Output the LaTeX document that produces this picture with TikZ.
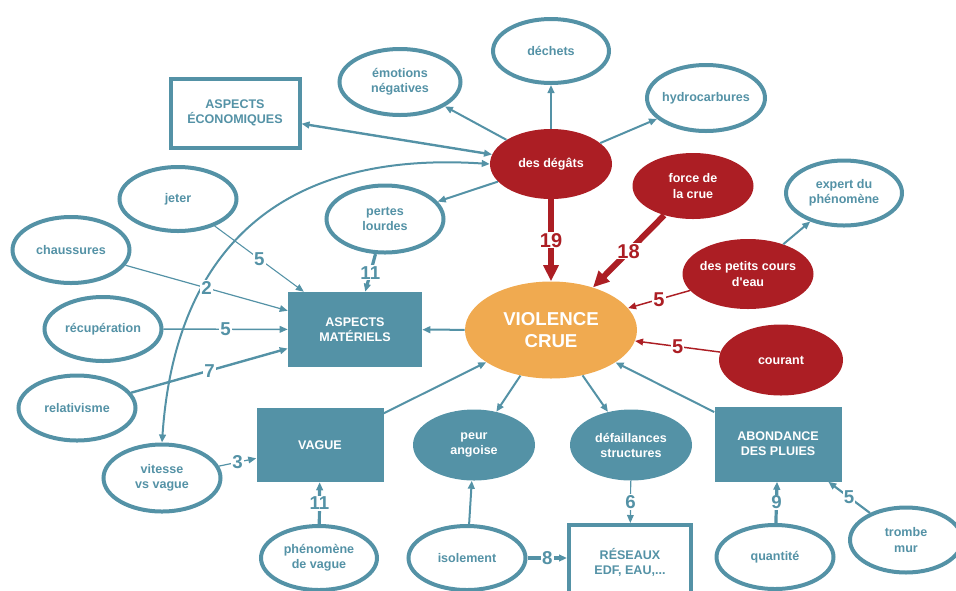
\documentclass[tikz,border=0pt]{standalone}
\usepackage{fontspec}
\setmainfont{Liberation Sans}
\usepackage{xcolor}
\usetikzlibrary{arrows.meta,shapes.geometric}

\definecolor{teal1}{RGB}{84,146,166}
\definecolor{crimson}{RGB}{172,30,36}
\definecolor{sand}{RGB}{240,170,80}

\begin{document}
\begin{tikzpicture}[
    x=0.75pt, y=-0.75pt,
    font=\fontsize{9.4}{11.3}\selectfont\bfseries,
    bubble/.style={
        ellipse,
        draw=teal1,
        line width=3pt,
        fill=white,
        text=teal1,
        align=center,
        inner xsep=-6pt,
        minimum width=87.75pt,
        minimum height=49.5pt
    },
    blob/.style={
        ellipse,
        fill=#1,
        text=white,
        align=center,
        inner xsep=-6pt,
        minimum width=91.5pt,
        minimum height=52.5pt
    },
    tealbox/.style={
        rectangle,
        fill=teal1,
        text=white,
        align=center,
        minimum width=95.25pt,
        minimum height=55.5pt
    },
    framebox/.style={
        rectangle,
        draw=teal1,
        line width=3pt,
        fill=white,
        text=teal1,
        align=center
    },
    link/.style={draw=teal1, line width=1.5pt, -{Triangle[length=6pt,width=5pt]}},
    redlink/.style={draw=crimson, line width=1.1pt, -{Triangle[length=6pt,width=5pt]}},
    biglink/.style={draw=crimson, line width=4.5pt, -{Triangle[length=12pt,width=11pt]}},
    num/.style={font=\fontsize{14}{14}\selectfont\bfseries, text=teal1, fill=white, inner sep=0.8pt},
    rednum/.style={font=\fontsize{15}{15}\selectfont\bfseries, text=crimson, fill=white, inner sep=0.8pt}
]
\useasboundingbox (0,0) rectangle (956,590);

% centre
\node[blob=sand, minimum width=129pt, minimum height=72.75pt,
      font=\fontsize{14}{16.7}\selectfont\bfseries] (crue) at (551,330) {VIOLENCE\\CRUE};

% red causes
\node[blob=crimson] (degats) at (551,164) {des dégâts};
\node[blob=crimson, minimum width=90.75pt, minimum height=49.5pt] (force) at (693,186) {force de\\la crue};
\node[blob=crimson, minimum width=98.25pt] (petits) at (748,274) {des petits cours\\d\textquotesingle eau};
\node[blob=crimson, minimum width=93pt, minimum height=53.25pt] (courant) at (781,360) {courant};

% around des degats
\node[framebox, minimum width=96.75pt, minimum height=51.75pt] (eco) at (235,113) {ASPECTS\\ÉCONOMIQUES};
\node[bubble, minimum width=90.75pt] (emo) at (400,82) {émotions\\négatives};
\node[bubble, minimum width=87pt, minimum height=48pt] (dechets) at (551,51) {déchets};
\node[bubble, minimum width=88.5pt] (hydro) at (706,98) {hydrocarbures};
\node[bubble, minimum width=87pt, minimum height=48.75pt] (expert) at (844,193) {expert du\\phénomène};
\node[bubble, minimum height=50.25pt] (pertes) at (385,219) {pertes\\lourdes};

% left side
\node[tealbox, minimum width=100.5pt, minimum height=56.25pt] (mater) at (355,329.5) {ASPECTS\\MATÉRIELS};
\node[bubble, minimum height=48pt] (jeter) at (178,199) {jeter};
\node[bubble] (chauss) at (71,250) {chaussures};
\node[bubble, minimum height=48pt] (recup) at (103,329) {récupération};
\node[bubble, minimum height=48.75pt] (relat) at (77,408) {relativisme};
\node[bubble, minimum height=50.25pt] (vitesse) at (162,478) {vitesse\\vs vague};

% bottom row
\node[tealbox] (vague) at (320,445) {VAGUE};
\node[blob=teal1, minimum height=53.25pt] (peur) at (474,445) {peur\\angoise};
\node[blob=teal1, minimum height=53.25pt] (defail) at (631,445) {défaillances\\structures};
\node[tealbox, minimum height=56.25pt] (abond) at (778,444) {ABONDANCE\\DES PLUIES};
\node[bubble, minimum width=87pt, minimum height=48pt] (phenom) at (319,558) {phénomène\\de vague};
\node[bubble, minimum height=48pt] (isol) at (467,558) {isolement};
\node[framebox, minimum width=91.5pt, minimum height=55.5pt] (reseaux) at (630,562) {RÉSEAUX\\EDF, EAU,...};
\node[bubble, minimum height=48pt] (quant) at (775,557) {quantité};
\node[bubble, minimum width=84pt, minimum height=48.75pt] (trombe) at (906,540) {trombe\\mur};

% long curve
\draw[link, {Triangle[length=6pt,width=5pt]}-{Triangle[length=6pt,width=5pt]}]
    (degats.west) .. controls (280,150) and (175,250) .. (vitesse.north);

% out of des degats
\draw[link] (degats) -- (emo);
\draw[link] (degats) -- (dechets);
\draw[link] (degats) -- (hydro);
\draw[link] (degats) -- (pertes);
\draw[link, line width=1.8pt, {Triangle[length=6pt,width=5pt]}-{Triangle[length=6pt,width=5pt]}] (degats) -- (eco);

% red weights
\draw[biglink] (degats) -- node[rednum] {19} (crue);
\draw[biglink] (force) -- node[rednum] {18} (crue);
\draw[redlink] (petits) -- node[rednum] {5} (crue);
\draw[redlink] (courant) -- node[rednum] {5} (crue);
\draw[link] (petits) -- (expert);

% aspects materiels
\draw[link] (crue) -- (mater);
\draw[link, line width=0.8pt] (jeter) -- node[num] {5} (mater);
\draw[link, line width=0.9pt] (chauss) -- node[num] {2} (mater);
\draw[link, line width=1.1pt] (recup) -- node[num] {5} (mater);
\draw[link, line width=1.8pt] (relat) -- node[num] {7} (mater);
\draw[link, line width=2.4pt] (pertes) -- node[num] {11} (mater);

% bottom
\draw[link] (vague) -- (crue);
\draw[link] (crue) -- (peur);
\draw[link] (crue) -- (defail);
\draw[link] (abond) -- (crue);
\draw[link, line width=0.9pt] (vitesse) -- node[num] {3} (vague);
\draw[link, line width=2.4pt] (phenom) -- node[num] {11} (vague);
\draw[link] (isol) -- (peur);
\draw[link, line width=0.9pt] (defail) -- node[num] {6} (reseaux);
\draw[link, line width=2.4pt] (isol.east) -- node[num] {8} (isol.east -| reseaux.west);
\draw[link, line width=2.4pt] (quant) -- node[num] {9} (abond);
\draw[link, line width=1.6pt] (trombe) -- node[num] {5} (abond);

\end{tikzpicture}
\end{document}
